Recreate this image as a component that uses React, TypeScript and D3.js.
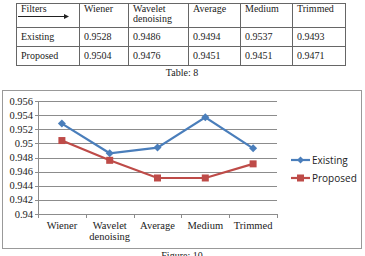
import React from "react";
import * as d3 from "d3";

const filters = ["Wiener", "Wavelet denoising", "Average", "Medium", "Trimmed"];
const categoryLines = [["Wiener"], ["Wavelet", "denoising"], ["Average"], ["Medium"], ["Trimmed"]];
const existing = [0.9528, 0.9486, 0.9494, 0.9537, 0.9493];
const proposed = [0.9504, 0.9476, 0.9451, 0.9451, 0.9471];
const yTicks = [0.94, 0.942, 0.944, 0.946, 0.948, 0.95, 0.952, 0.954, 0.956];
const tableHeader = [["Filters"], ["Wiener"], ["Wavelet", "denoising"], ["Average"], ["Medium"], ["Trimmed"]];
const tableRows = [
  ["Existing", "0.9528", "0.9486", "0.9494", "0.9537", "0.9493"],
  ["Proposed", "0.9504", "0.9476", "0.9451", "0.9451", "0.9471"],
];

const BLUE = "#4a7ebb";
const RED = "#be4b48";
const SERIF = "'Liberation Serif', 'DejaVu Serif', serif";
const SANS = "'Open Sans', 'Liberation Sans', sans-serif";

export default function App() {
  // table geometry
  const colEdges = [16, 79, 128, 188, 240, 292, 345];
  const rowEdges = [3, 27, 46, 65];

  // chart geometry
  const plotLeft = 38, plotRight = 277, plotTop = 101, plotBottom = 214;
  const x = d3.scaleBand<string>().domain(filters).range([plotLeft, plotRight]);
  const y = d3.scaleLinear().domain([0.94, 0.956]).range([plotBottom, plotTop]);
  const cx = (c: string) => (x(c) ?? 0) + x.bandwidth() / 2;

  const line = d3.line<number>().x((_, i) => cx(filters[i])).y((d) => y(d));

  return (
    <div style={{ position: "absolute", left: 0, top: 0 }}>
      <svg width={365} height={256} style={{ display: "block" }}>
        <rect x={0} y={0} width={365} height={256} fill="#fff" />
        {/* table */}
        <g stroke="#666" strokeWidth={1}>
          {colEdges.map((cxp, i) => (
            <line key={"c" + i} x1={cxp + 0.5} x2={cxp + 0.5} y1={rowEdges[0]} y2={rowEdges[3]} />
          ))}
          {rowEdges.map((ry, i) => (
            <line key={"r" + i} x1={colEdges[0]} x2={colEdges[6] + 1} y1={ry + 0.5} y2={ry + 0.5} />
          ))}
        </g>
        <g fontFamily={SERIF} fontSize={10} fill="#222">
          {tableHeader.map((lines, ci) =>
            lines.map((t, li) => (
              <text key={"h" + ci + li} x={colEdges[ci] + 5} y={12 + li * 10}>{t}</text>
            ))
          )}
          {tableRows.map((row, ri) =>
            row.map((t, ci) => (
              <text key={"v" + ri + ci} x={colEdges[ci] + 5} y={rowEdges[ri + 1] + 13}>{t}</text>
            ))
          )}
          <text x={182} y={76} textAnchor="middle">Table: 8</text>
        </g>
        <line x1={18} x2={64} y1={16.5} y2={16.5} stroke="#222" strokeWidth={1} />
        <path d="M64,14 L69,16.5 L64,19 Z" fill="#222" />

        {/* chart frame */}
        <rect x={2.5} y={90.5} width={359} height={158} fill="#fff" stroke="#999" strokeWidth={1} />

        {/* gridlines */}
        <g stroke="#8c8c8c" strokeWidth={1}>
          {yTicks.slice(1).map((t) => (
            <line key={t} x1={plotLeft} x2={plotRight} y1={Math.round(y(t)) + 0.5} y2={Math.round(y(t)) + 0.5} />
          ))}
          <line x1={plotLeft + 0.5} x2={plotLeft + 0.5} y1={plotTop} y2={plotBottom} />
          {yTicks.map((t) => (
            <line key={"yt" + t} x1={plotLeft - 3} x2={plotLeft} y1={Math.round(y(t)) + 0.5} y2={Math.round(y(t)) + 0.5} />
          ))}
          <line x1={plotLeft} x2={plotRight} y1={plotBottom + 0.5} y2={plotBottom + 0.5} />
          {filters.map((f) => (
            <line key={"xt" + f} x1={Math.round(x(f) ?? 0) + 0.5} x2={Math.round(x(f) ?? 0) + 0.5} y1={plotBottom} y2={plotBottom + 4} />
          ))}
          <line x1={plotRight + 0.5} x2={plotRight + 0.5} y1={plotBottom} y2={plotBottom + 4} />
        </g>

        {/* y tick labels */}
        <g fontFamily={SERIF} fontSize={10.5} fill="#222" textAnchor="end">
          {yTicks.map((t) => (
            <text key={"yl" + t} x={plotLeft - 5} y={y(t) + 3.5}>{d3.format("")(+t.toFixed(3))}</text>
          ))}
        </g>

        {/* x labels */}
        <g fontFamily={SERIF} fontSize={10.5} fill="#222" textAnchor="middle">
          {filters.map((f, i) =>
            categoryLines[i].map((t, li) => (
              <text key={"xl" + f + li} x={cx(f)} y={229 + li * 11}>{t}</text>
            ))
          )}
        </g>

        {/* series */}
        <path d={line(existing) ?? ""} fill="none" stroke={BLUE} strokeWidth={2.2} />
        <path d={line(proposed) ?? ""} fill="none" stroke={RED} strokeWidth={2.2} />
        {existing.map((v, i) => {
          const px = cx(filters[i]), py = y(v);
          return <path key={"e" + i} d={`M${px},${py - 4} L${px + 4},${py} L${px},${py + 4} L${px - 4},${py} Z`} fill={BLUE} />;
        })}
        {proposed.map((v, i) => {
          const px = cx(filters[i]), py = y(v);
          return <rect key={"p" + i} x={px - 3.5} y={py - 3.5} width={7} height={7} fill={RED} />;
        })}

        {/* legend */}
        <g fontFamily={SANS} fontSize={10}>
          <line x1={291} x2={310} y1={160} y2={160} stroke={BLUE} strokeWidth={2.2} />
          <path d="M300.5,156.5 L304,160 L300.5,163.5 L297,160 Z" fill={BLUE} />
          <text x={312} y={163.5} fill="#222">Existing</text>
          <line x1={291} x2={310} y1={178} y2={178} stroke={RED} strokeWidth={2.2} />
          <rect x={297} y={174.5} width={7} height={7} fill={RED} />
          <text x={312} y={181.5} fill="#222">Proposed</text>
        </g>

        <text x={182} y={259} textAnchor="middle" fontFamily={SERIF} fontSize={10} fill="#222">Figure: 10</text>
      </svg>
    </div>
  );
}
